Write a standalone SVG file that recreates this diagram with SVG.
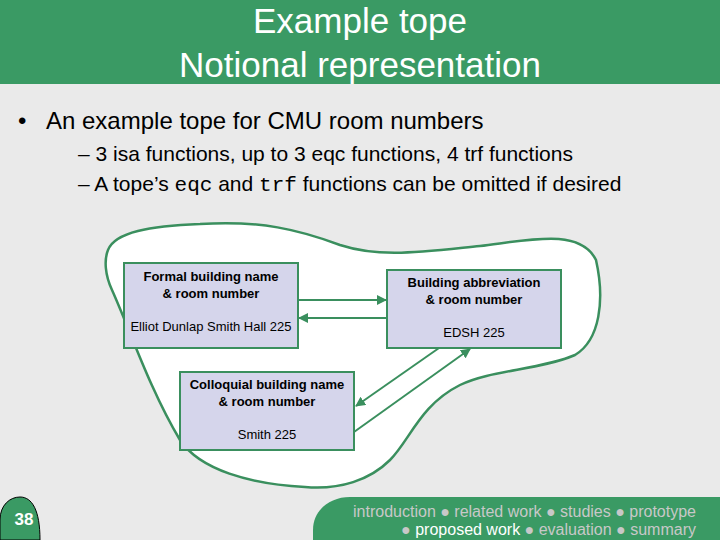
<svg xmlns="http://www.w3.org/2000/svg" width="720" height="540" viewBox="0 0 720 540">
<defs>
<style>
.t{font-family:"Liberation Sans",Arial,sans-serif}
.box{fill:#D5D5EB;stroke:#3A8F5E;stroke-width:2}
.hd{font-size:13px;font-weight:bold;fill:#000;text-anchor:middle}
.vl{font-size:13px;fill:#000;text-anchor:middle}
.c{stroke:#3A8F5E;stroke-width:2;fill:none;marker-end:url(#ah)}
.mono{font-family:"Liberation Mono","Courier New",monospace}
</style>
<marker id="ah" viewBox="0 0 10 10" refX="9" refY="5" markerWidth="5" markerHeight="5" orient="auto"><path d="M0,0L10,5L0,10z" fill="#3A8F5E"/></marker>
</defs>
<rect width="720" height="540" fill="#EAEAEA"/>
<rect width="720" height="84" fill="#3A9A64"/>
<text class="t" x="360" y="33" font-size="35" fill="#fff" text-anchor="middle">Example tope</text>
<text class="t" x="360" y="77" font-size="35" fill="#fff" text-anchor="middle">Notional representation</text>
<text class="t" x="18" y="129" font-size="24" fill="#000">•</text>
<text class="t" x="46" y="129" font-size="24" fill="#000">An example tope for CMU room numbers</text>
<text class="t" x="78" y="161" font-size="21" fill="#000">– 3 isa functions, up to 3 eqc functions, 4 trf functions</text>
<text class="t" x="78" y="191" font-size="21" fill="#000">– A tope’s <tspan class="mono">eqc</tspan> and <tspan class="mono">trf</tspan> functions can be omitted if desired</text>
<path d="M108,250 C115,232 150,226 200,224 C260,220 300,230 340,245 C380,258 420,252 480,246 C530,240 580,228 596,260 C605,300 600,340 575,355 C540,370 490,370 460,385 C420,405 410,440 390,460 C370,480 340,490 305,487 C250,484 200,470 180,440 C150,390 130,330 112,290 C105,275 104,260 108,250 Z" fill="#fff" stroke="#3A8F5E" stroke-width="2.5"/>
<g id="formal">
<rect class="box" x="124" y="263" width="174" height="85"/>
<text class="t hd" x="211" y="281">Formal building name</text>
<text class="t hd" x="211" y="298">&amp; room number</text>
<text class="t vl" x="211" y="331">Elliot Dunlap Smith Hall 225</text>
</g>
<g id="abbr">
<rect class="box" x="387" y="270" width="174" height="78"/>
<text class="t hd" x="474" y="287">Building abbreviation</text>
<text class="t hd" x="474" y="304">&amp; room number</text>
<text class="t vl" x="474" y="337">EDSH 225</text>
</g>
<g id="colloq">
<rect class="box" x="180" y="372" width="174" height="78"/>
<text class="t hd" x="267" y="389">Colloquial building name</text>
<text class="t hd" x="267" y="406">&amp; room number</text>
<text class="t vl" x="267" y="439">Smith 225</text>
</g>
<g id="connectors">
<line class="c" x1="298" y1="300" x2="386" y2="300"/>
<line class="c" x1="387" y1="318" x2="299" y2="318"/>
<line class="c" x1="439" y1="348" x2="356" y2="406"/>
<line class="c" x1="354" y1="432" x2="470" y2="349"/>
</g>
<path d="M0,520 C0,505 10,497 20,497 C32,497 40,510 40,540 L0,540 Z" fill="#3A9A64" stroke="#000" stroke-width="1"/>
<text class="t" x="24" y="525" font-size="17" font-weight="bold" fill="#fff" text-anchor="middle">38</text>
<path d="M313,540 L313,530 C313,510 330,497 350,497 L720,497 L720,540 Z" fill="#3A9A64"/>
<text class="t" x="696" y="517" font-size="16" fill="#C8C8C8" text-anchor="end">introduction ● related work ● studies ● prototype</text>
<text class="t" x="696" y="535" font-size="16" fill="#C8C8C8" text-anchor="end">● <tspan fill="#fff">proposed work</tspan> ● evaluation ● summary</text>
</svg>
